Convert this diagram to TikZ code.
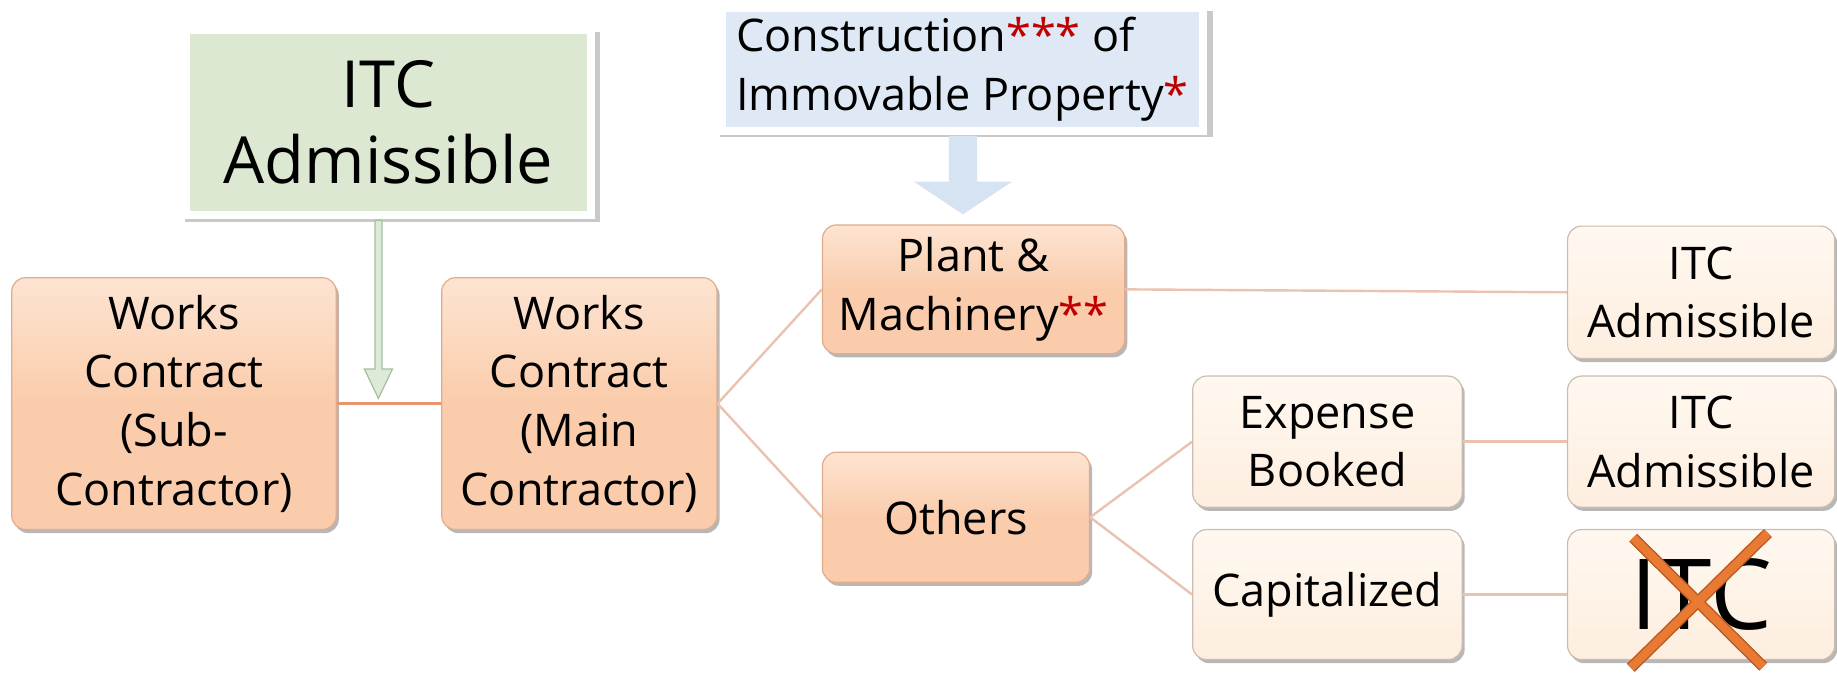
\documentclass[tikz,border=0pt]{standalone}
\usepackage{fontspec}
\setmainfont{Open Sans}
\usetikzlibrary{shadows}
\definecolor{peachtop}{RGB}{253,228,210}
\definecolor{peachbot}{RGB}{250,204,171}
\definecolor{peachdraw}{RGB}{225,172,140}
\definecolor{lighttop}{RGB}{255,248,240}
\definecolor{lightbot}{RGB}{253,238,223}
\definecolor{lightdraw}{RGB}{205,188,175}
\definecolor{greenfill}{RGB}{220,232,210}
\definecolor{greenarr}{RGB}{222,234,216}
\definecolor{greenline}{RGB}{165,190,160}
\definecolor{bluefill}{RGB}{222,233,245}
\definecolor{bluearr}{RGB}{214,227,242}
\definecolor{linkc}{RGB}{235,193,175}
\definecolor{linkthick}{RGB}{232,150,112}
\definecolor{redast}{RGB}{192,0,0}
\definecolor{xfill}{RGB}{232,122,52}
\definecolor{xdraw}{RGB}{185,88,30}
\newcommand\fsn{\fontsize{22.5pt}{29.3pt}\selectfont}
\newcommand\fbig{\fontsize{32.5pt}{38pt}\selectfont}
\newcommand\fhuge{\fontsize{49pt}{55pt}\selectfont}
\newcommand\rast[1]{\textcolor{redast}{#1}}
\tikzset{
  sz/.style 2 args={minimum width=#1*0.5858pt, minimum height=#2*0.5858pt},
  shad/.style={drop shadow={shadow xshift=1.3pt, shadow yshift=-1.8pt, opacity=0.4, fill=black!70}},
  base/.style={rounded corners=7pt, align=center, inner sep=2pt, font=\fsn, shad, line width=0.6pt},
  peach/.style={base, top color=peachtop, bottom color=peachbot, middle color=peachbot, draw=peachdraw},
  light/.style={base, top color=lighttop, bottom color=lightbot, draw=lightdraw},
  callout/.style={draw=white, line width=4pt, align=center, inner sep=2pt,
    drop shadow={shadow xshift=2pt, shadow yshift=-2.4pt, shadow scale=1.025, opacity=0.3, fill=black!70}},
  link/.style={draw=linkc, line width=1.2pt},
}
\begin{document}
\begin{tikzpicture}[x=0.5858pt,y=-0.5858pt]
\path[use as bounding box] (0,0) rectangle (1568,574);

% callouts
\node[callout, fill=greenfill, sz={346}{158}, font=\fbig] (gr) at (331.5,104.5) {ITC\\Admissible};
\node[callout, fill=bluefill, sz={410}{105}, font=\fsn, align=left] (bl) at (821.5,59) {Construction\rast{***} of\\Immovable Property\rast{*}};

% main nodes
\node[peach, sz={277}{215}] (sub) at (148.5,344.5) {Works\\Contract\\(Sub-\\Contractor)};
\node[peach, sz={235}{215}] (main) at (494.5,344.5) {Works\\Contract\\(Main\\Contractor)};
\node[peach, sz={258}{110}] (plant) at (831,247) {Plant \&\\Machinery\rast{**}};
\node[peach, sz={228}{111}] (others) at (816,441.5) {Others};
\node[light, sz={230}{112}] (exp) at (1133,377) {Expense\\Booked};
\node[light, sz={230}{111}] (cap) at (1133,507.5) {Capitalized};
\node[light, sz={228}{113}] (itca) at (1452,249.5) {ITC\\Admissible};
\node[light, sz={228}{112}] (itcb) at (1452,377) {ITC\\Admissible};
\node[light, sz={228}{111}, font=\fhuge] (itcc) at (1452,507.5) {ITC};

% cross over ITC
\coordinate (xa1) at (1394,459); \coordinate (xa2) at (1505,569);
\coordinate (xb1) at (1509,455); \coordinate (xb2) at (1392,570);
\draw[xdraw, line width=5.6pt] (xa1) -- (xa2) (xb1) -- (xb2);
\draw[xfill, line width=4.2pt] (xa1) -- (xa2) (xb1) -- (xb2);

% green thin arrow
\draw[greenline, fill=greenarr, line width=0.6pt]
  (320,188) -- (320,315) -- (311,315) -- (323,340) -- (335,315) -- (326,315) -- (326,188) -- cycle;

% blue block arrow
\fill[bluearr] (810,116) -- (810,155) -- (780,155) -- (822,183) -- (864,155) -- (834,155) -- (834,116) -- cycle;

% connectors
\draw[draw=linkthick, line width=1.8pt] (sub.east) -- (main.west);
\draw[link] (main.east) -- (plant.west);
\draw[link] (main.east) -- (others.west);
\draw[link] (plant.east) -- (itca.west);
\draw[link] (others.east) -- (exp.west);
\draw[link] (others.east) -- (cap.west);
\draw[link] (exp.east) -- (itcb.west);
\draw[link] (cap.east) -- (itcc.west);
\end{tikzpicture}
\end{document}
